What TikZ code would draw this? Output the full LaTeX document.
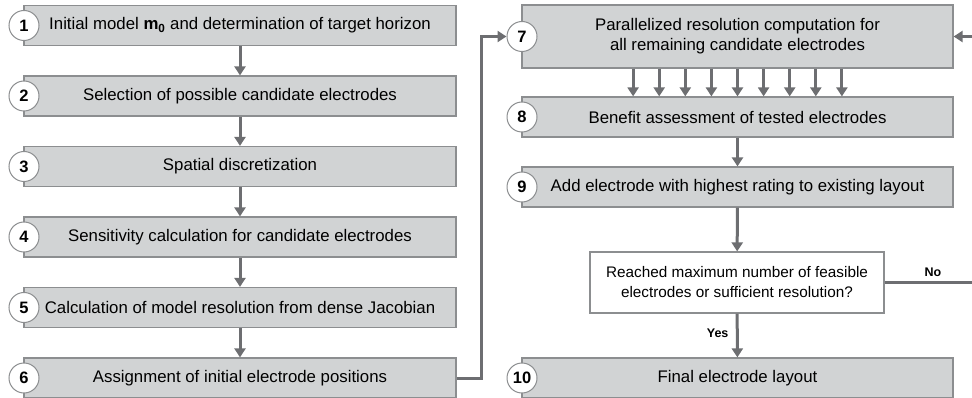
\documentclass[tikz,border=0pt]{standalone}
\usepackage{fontspec}
\setmainfont{Liberation Sans}
\usetikzlibrary{arrows.meta}
\definecolor{boxfill}{HTML}{D1D3D4}
\definecolor{boxline}{HTML}{8C8E90}
\definecolor{arr}{HTML}{6D6E71}
\begin{document}
\begin{tikzpicture}[x=1pt,y=-1pt,
 stepbox/.style={draw=boxline, fill=boxfill, line width=1.2pt, minimum height=40pt, minimum width=432pt, inner sep=0pt, align=center, font=\fontsize{16.8}{20}\selectfont},
 num/.style={circle, draw=boxline, fill=white, line width=1pt, minimum size=30pt, inner sep=0pt, font=\bfseries\fontsize{16.5}{16.5}\selectfont},
 flow/.style={draw=arr, line width=3pt, -{Triangle[length=9pt,width=11pt]}},
 lbl/.style={font=\bfseries\fontsize{12.5}{12.5}\selectfont}]
\useasboundingbox (0,0) rectangle (972,398);
\clip (0,0) rectangle (972,398);
% left column
\node[stepbox] (b1) at (240,25.5) {Initial model {\bfseries m\textsubscript{0}} and determination of target horizon};
\node[stepbox] (b2) at (240,96) {Selection of possible candidate electrodes};
\node[stepbox] (b3) at (240,166.5) {Spatial discretization};
\node[stepbox] (b4) at (240,237) {Sensitivity calculation for candidate electrodes};
\node[stepbox] (b5) at (240,307.5) {Calculation of model resolution from dense Jacobian};
\node[stepbox] (b6) at (240,378) {Assignment of initial electrode positions};
% right column
\node[stepbox, minimum width=431pt, minimum height=63pt] (b7) at (737.5,36.5) {Parallelized resolution computation for\\all remaining candidate electrodes};
\node[stepbox, minimum width=431pt] (b8) at (737.5,117) {Benefit assessment of tested electrodes};
\node[stepbox, minimum width=431pt] (b9) at (737.5,187) {Add electrode with highest rating to existing layout};
\node[draw=boxline, fill=white, line width=1.2pt, minimum width=294pt, minimum height=61pt, inner sep=0pt, align=center, font=\fontsize{15.3}{20}\selectfont] (dec) at (737,282.5) {Reached maximum number of feasible\\electrodes or sufficient resolution?};
\node[stepbox, minimum width=431pt] (b10) at (737.5,378) {Final electrode layout};
% numbers
\node[num] (c1) at (24,25.5) {1};
\node[num] (c2) at (24,96) {2};
\node[num] (c3) at (24,166.5) {3};
\node[num] (c4) at (24,237) {4};
\node[num] (c5) at (24,307.5) {5};
\node[num] (c6) at (24,378) {6};
\node[num] (c7) at (522,36.5) {7};
\node[num] (c8) at (522,117) {8};
\node[num] (c9) at (522,187) {9};
\node[num] (c10) at (522,378) {10};
% connectors
\draw[flow] (b1) -- (b2);
\draw[flow] (b2) -- (b3);
\draw[flow] (b3) -- (b4);
\draw[flow] (b4) -- (b5);
\draw[flow] (b5) -- (b6);
\draw[flow] (b6.east) -- ++(25,0) |- (c7.west);
\foreach \i in {0,...,8}
  \draw[flow] ([xshift={(\i-4)*26.1pt}]b7.south) -- ([xshift={(\i-4)*26.1pt}]b8.north);
\draw[flow] (b8) -- (b9);
\draw[flow] (b9) -- (dec);
\draw[flow] (dec) -- node[lbl, left=4pt, pos=0.45] (yes) {Yes} (b10);
\coordinate (rr) at (985,282.5);
\draw[flow] (dec.east) -- (rr) |- (b7.east);
\node[lbl] (no) at (933,272) {No};
\end{tikzpicture}
\end{document}
